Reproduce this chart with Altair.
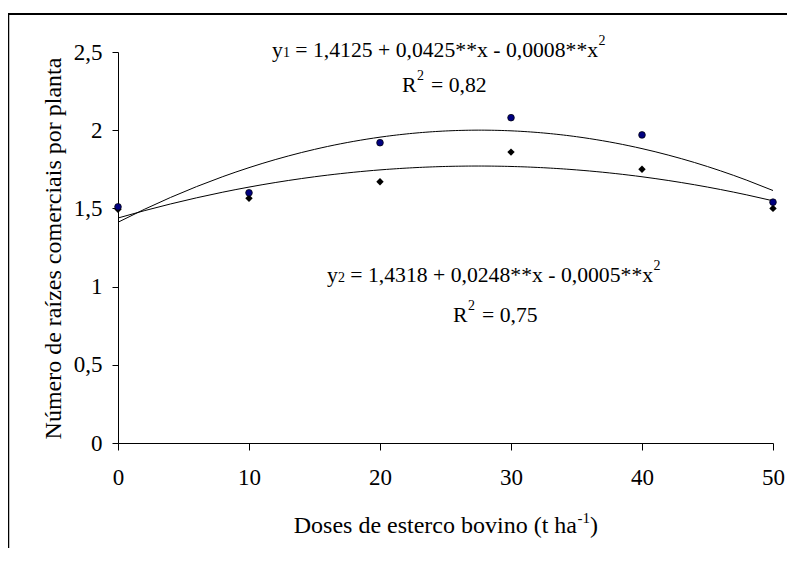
import altair as alt
import pandas as pd

FONT = "'Liberation Serif', 'Times New Roman', Times, serif"

# ---- data ----
doses = [0, 10, 20, 30, 40, 50]
y1_vals = [1.51, 1.60, 1.92, 2.08, 1.97, 1.54]   # navy circles
y2_vals = [1.495, 1.565, 1.67, 1.86, 1.75, 1.50]  # black diamonds
series = ["y1", "y2"]
y_ticks = [0, 0.5, 1, 1.5, 2, 2.5]
x_ticks = [0, 10, 20, 30, 40, 50]

y_title = "Número de raízes comerciais por planta"
x_title_parts = ["Doses de esterco bovino (t ha", "-1", ")"]
eq1_parts = ["y", "1", "= 1,4125 + 0,0425**x - 0,0008**x", "2"]
r1_parts = ["R", "2", "= 0,82"]
eq2_parts = ["y", "2", "= 1,4318 + 0,0248**x - 0,0005**x", "2"]
r2_parts = ["R", "2", "= 0,75"]

df = pd.DataFrame({
    "dose": doses * 2,
    "valor": y1_vals + y2_vals,
    "serie": [series[0]] * len(doses) + [series[1]] * len(doses),
})

x_enc = alt.X(
    "dose:Q",
    scale=alt.Scale(domain=[0, 50], nice=False, zero=False),
    axis=alt.Axis(values=x_ticks, title=None, tickSize=7, labelPadding=16,
                  labelFlush=False, labelOverlap=False, format="d"),
)
y_enc = alt.Y(
    "valor:Q",
    scale=alt.Scale(domain=[0, 2.5], nice=False),
    axis=alt.Axis(values=y_ticks, title=y_title, tickSize=6, labelPadding=10,
                  labelFlush=False, labelOverlap=False,
                  labelExpr="replace(format(datum.value, '.1~f'), '.', ',')",
                  titleX=-58, titleY=196, titleAngle=270, titleAlign="center",
                  titleBaseline="alphabetic", titleFontSize=24),
)

base = alt.Chart(df)

curves = base.transform_regression(
    "dose", "valor", method="poly", order=2, groupby=["serie"], extent=[0, 50]
).mark_line(color="black", strokeWidth=1).encode(x=x_enc, y=y_enc, detail="serie:N")

diamonds = base.transform_filter(alt.datum.serie == series[1]).mark_point(
    shape="diamond", filled=True, color="black", size=55, opacity=1
).encode(x=x_enc, y=y_enc)

circles = base.transform_filter(alt.datum.serie == series[0]).mark_point(
    shape="circle", filled=True, color="#000080", stroke="black", strokeWidth=0.7,
    size=45, opacity=1
).encode(x=x_enc, y=y_enc)


def txt(s, x, y, size, align="left"):
    return alt.Chart(alt.Data(values=[{"t": s}])).mark_text(
        align=align, baseline="alphabetic", font=FONT, fontSize=size, color="black"
    ).encode(text="t:N", x=alt.value(x), y=alt.value(y))


EQ = 21.7
SUB = 14

texts = [
    # equation 1
    txt(eq1_parts[0], 154, 5, EQ),
    txt(eq1_parts[1], 164.9, 5, SUB),
    txt(eq1_parts[2], 177.3, 5, EQ),
    txt(eq1_parts[3], 480.5, -7, SUB),
    txt(r1_parts[0], 284, 40, EQ),
    txt(r1_parts[1], 299, 28, SUB),
    txt(r1_parts[2], 313, 40, EQ),
    # equation 2
    txt(eq2_parts[0], 209, 230, EQ),
    txt(eq2_parts[1], 219.9, 230, SUB),
    txt(eq2_parts[2], 232.3, 230, EQ),
    txt(eq2_parts[3], 535.5, 218, SUB),
    txt(r2_parts[0], 335, 270, EQ),
    txt(r2_parts[1], 350, 258, SUB),
    txt(r2_parts[2], 364, 270, EQ),
    # x axis title
    txt(x_title_parts[0], 459, 481, 24, align="right"),
    txt(x_title_parts[1], 459.5, 471, 15),
    txt(x_title_parts[2], 472, 481, 24),
]

frame_data = alt.Data(values=[{"k": 0}])
frame_top = alt.Chart(frame_data).mark_rule(color="black", strokeWidth=1.8).encode(
    x=alt.value(-110), x2=alt.value(669), y=alt.value(-38)
)
frame_left = alt.Chart(frame_data).mark_rule(color="black", strokeWidth=1.5).encode(
    x=alt.value(-109.5), y=alt.value(-38), y2=alt.value(496)
)

chart = alt.layer(frame_top, frame_left, curves, diamonds, circles, *texts).properties(
    width=655, height=391,
    autosize=alt.AutoSizeParams(type="none"),
    padding={"left": 110, "top": 44, "right": 14, "bottom": 105},
).configure_view(stroke=None).configure_axis(
    grid=False,
    domainColor="black", tickColor="black", domainWidth=1, tickWidth=1,
    labelFont=FONT, labelFontSize=23, labelColor="black",
    titleFont=FONT, titleFontSize=24, titleFontWeight="normal", titleColor="black",
)

chart.save("out.html", embed_options={"renderer": "svg", "actions": False})
